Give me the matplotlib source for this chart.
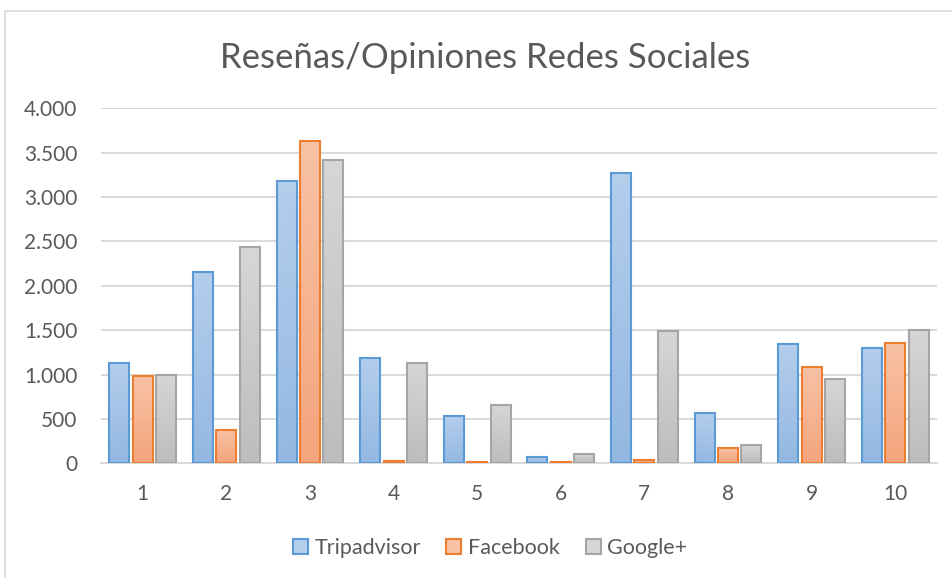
import numpy as np
import matplotlib
matplotlib.use("Agg")
import matplotlib.pyplot as plt
from matplotlib.patches import Patch, Rectangle
from matplotlib.ticker import FuncFormatter
from matplotlib.colors import LinearSegmentedColormap

plt.rcParams['font.family'] = ['Lato', 'DejaVu Sans']

# data
groups = [1, 2, 3, 4, 5, 6, 7, 8, 9, 10]
series = ["Tripadvisor", "Facebook", "Google+"]
tripadvisor = [1130, 2150, 3185, 1190, 530, 70, 3270, 565, 1342, 1304]
facebook = [985, 375, 3630, 26, 13, 20, 35, 170, 1086, 1361]
google = [1000, 2432, 3423, 1130, 660, 105, 1490, 203, 947, 1500]

# edge colour, gradient top, gradient bottom
styles = [("#5B9BD5", "#B4CEEC", "#94B8E2"),
          ("#ED7D31", "#F8C2A6", "#F4A57C"),
          ("#A5A5A5", "#D6D6D6", "#BDBDBD")]

text_col = "#595959"
grid_col = "#D9D9D9"

fig = plt.figure(figsize=(9.53, 5.78), dpi=100)
ax = fig.add_axes([101/953, 1-463.3/578, 836/953, 355/578])

x = np.arange(len(groups))
width = 0.24
step = 0.28
grad = np.linspace(1, 0, 64).reshape(-1, 1)

for k, vals in enumerate([tripadvisor, facebook, google]):
    edge, top, bottom = styles[k]
    cmap = LinearSegmentedColormap.from_list("g%d" % k, [bottom, top])
    bars = ax.bar(x + (k-1)*step, vals, width, facecolor='none',
                  edgecolor=edge, linewidth=1.5, zorder=3)
    for b in bars:
        x0, y0 = b.get_x(), b.get_y()
        im = ax.imshow(grad, cmap=cmap, vmin=0, vmax=1, aspect='auto',
                       extent=[x0, x0+b.get_width(), y0, y0+b.get_height()],
                       zorder=2.5, interpolation='bilinear')
        im.set_clip_path(b)

ax.set_xlim(-0.5, len(groups)-0.5)
ax.set_ylim(0, 4000)
ax.set_yticks(range(0, 4001, 500))
ax.yaxis.set_major_formatter(FuncFormatter(lambda v, p: f"{int(v):,}".replace(",", ".")))
ax.set_xticks(x)
ax.set_xticklabels([str(g) for g in groups])
ax.grid(axis='y', color=grid_col, linewidth=1.4, zorder=0)
ax.set_axisbelow(True)
for s in ['top', 'right', 'left']:
    ax.spines[s].set_visible(False)
ax.spines['bottom'].set_color(grid_col)
ax.spines['bottom'].set_linewidth(1.4)
ax.spines['bottom'].set_zorder(2)
ax.tick_params(axis='both', length=0, labelsize=15, labelcolor=text_col)
ax.tick_params(axis='y', pad=17)
ax.tick_params(axis='x', pad=15)

fig.text(485/953, 1-68/578, "Reseñas/Opiniones Redes Sociales", ha='center',
         va='baseline', fontsize=25, color=text_col)

handles = [Patch(facecolor=(styles[k][1]), edgecolor=styles[k][0], linewidth=1.5)
           for k in range(3)]
fig.legend(handles, series, loc='center', bbox_to_anchor=(490/953, 1-548/578),
           ncol=3, frameon=False, fontsize=15.5, labelcolor=text_col,
           handlelength=0.7, handleheight=0.7, handletextpad=0.3,
           columnspacing=1.2)

# chart border
fig.patches.append(Rectangle((4.5/953, -0.05), 1.2, 1-10.5/578+0.05,
                             transform=fig.transFigure, fill=False,
                             edgecolor=grid_col, linewidth=1.2))

fig.savefig("out.png", dpi=100)
